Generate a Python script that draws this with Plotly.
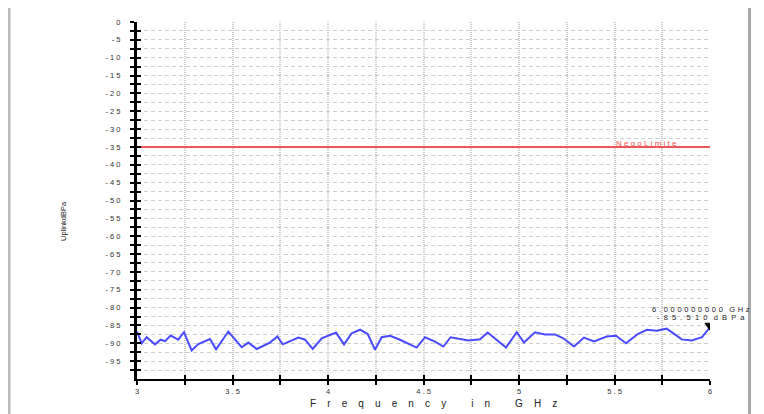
import plotly.graph_objects as go

# ---- data ----
freq_ghz = [3.00, 3.025, 3.05, 3.094, 3.124, 3.147, 3.176, 3.216, 3.246, 3.286,
            3.321, 3.382, 3.414, 3.478, 3.548, 3.583, 3.627, 3.696, 3.735, 3.763,
            3.845, 3.88, 3.92, 3.967, 4.042, 4.084, 4.124, 4.168, 4.208, 4.246,
            4.281, 4.325, 4.377, 4.464, 4.508, 4.56, 4.604, 4.642, 4.735, 4.796,
            4.836, 4.932, 4.988, 5.026, 5.084, 5.136, 5.188, 5.232, 5.288, 5.34,
            5.393, 5.459, 5.508, 5.56, 5.622, 5.669, 5.721, 5.773, 5.852, 5.904,
            5.958, 6.0]
level_dbpa = [-86.7, -90.0, -88.3, -90.3, -89.0, -89.4, -87.8, -89.0, -86.9, -92.0,
              -90.2, -88.8, -91.7, -86.7, -91.1, -89.8, -91.6, -89.8, -88.1, -90.3,
              -88.4, -89.0, -91.6, -88.6, -87.0, -90.3, -87.2, -86.2, -87.4, -91.8,
              -88.3, -87.9, -89.0, -91.2, -88.3, -89.5, -90.9, -88.3, -89.2, -88.9,
              -87.0, -91.2, -86.9, -89.8, -86.9, -87.5, -87.5, -88.6, -90.9, -88.4,
              -89.5, -88.1, -87.9, -90.0, -87.4, -86.2, -86.5, -85.9, -88.9, -89.2,
              -88.3, -85.51]
limit_freq = [3.0, 6.0]
limit_level = [-35, -35]
limit_label = "NegoLimite"

x_tick_vals = [3.0, 3.25, 3.5, 3.75, 4.0, 4.25, 4.5, 4.75, 5.0, 5.25, 5.5, 5.75, 6.0]
x_tick_text = ["3", "", "3.5", "", "4", "", "4.5", "", "5", "", "5.5", "", "6"]
y_tick_vals = [-v * 2.5 for v in range(0, 40)]
y_tick_text = [("%d" % v) if v % 5 == 0 else "" for v in y_tick_vals]

x_title = "Frequency in GHz"
y_title = "UplinkdBPa"
marker_line1 = "6.000000000 GHz"
marker_line2 = "-85.510 dBPa"

NB = "\u00a0"


def spaced(s, n=1, word=None, sep=None):
    gap = sep if sep is not None else NB * n
    out = []
    for i, ch in enumerate(s):
        if ch == " ":
            out.append(NB * (word if word is not None else n))
            continue
        out.append(ch)
        if i < len(s) - 1 and s[i + 1] != " ":
            out.append(gap)
    return "".join(out)


# page body margin of the browser (8px) shifts the figure
O = 8
W, H = 764, 414
# plot area in window pixels: x 137..710, y 22..379
L, T = 137 - O, 22 - O
R, B = W - (710 - O), H - (379 - O)
PW, PH = W - L - R, H - T - B


def px(x):
    return (x - O - L) / PW


def py(y):
    return (H - B - (y - O)) / PH


fig = go.Figure()

fig.add_trace(go.Scatter(x=limit_freq, y=limit_level, mode="lines",
                         line=dict(color="#f05555", width=2), hoverinfo="skip",
                         showlegend=False))
fig.add_trace(go.Scatter(x=freq_ghz, y=level_dbpa, mode="lines",
                         line=dict(color="#4a4aff", width=2), showlegend=False))
# dummy trace for overlay axes (cross ticks)
fig.add_trace(go.Scatter(x=[freq_ghz[0]], y=[level_dbpa[0]], xaxis="x2", yaxis="y2",
                         mode="markers", marker=dict(opacity=0), showlegend=False,
                         hoverinfo="skip"))

tickfont = dict(family="Liberation Sans, Arial", size=7.5, color="#333333")

fig.update_layout(
    width=W, height=H,
    margin=dict(l=L, r=R, t=T, b=B, autoexpand=False),
    paper_bgcolor="white", plot_bgcolor="white",
    xaxis=dict(range=[3, 6], tickmode="array", tickvals=x_tick_vals,
               ticktext=[spaced(t) for t in x_tick_text],
               showgrid=True, gridcolor="#cccccc", gridwidth=2, griddash="1px,1px",
               showline=True, linecolor="black", linewidth=2,
               ticks="outside", ticklen=4, tickwidth=2, tickcolor="black",
               tickfont=tickfont, zeroline=False, automargin=False),
    yaxis=dict(range=[-100, 0], tickmode="array", tickvals=y_tick_vals,
               ticktext=[spaced(t) for t in y_tick_text],
               showgrid=True, gridcolor="#d0d0d0", gridwidth=1, griddash="4px,3px",
               showline=True, linecolor="black", linewidth=3,
               ticks="outside", ticklen=4, tickwidth=2, tickcolor="black",
               tickfont=tickfont, ticklabelstandoff=8, zeroline=False, automargin=False),
    xaxis2=dict(range=[3, 6], overlaying="x", anchor="y2", side="bottom",
                tickmode="array", tickvals=x_tick_vals, showticklabels=False,
                ticks="inside", ticklen=4, tickwidth=2, tickcolor="black",
                showgrid=False, showline=False, zeroline=False),
    yaxis2=dict(range=[-100, 0], overlaying="y", anchor="x2", side="left",
                tickmode="array", tickvals=y_tick_vals, showticklabels=False,
                ticks="inside", ticklen=4, tickwidth=2, tickcolor="black",
                showgrid=False, showline=False, zeroline=False),
    showlegend=False,
)

# page frame
fig.add_shape(type="line", xref="paper", yref="paper", x0=px(8), x1=px(750),
              y0=py(6.5), y1=py(6.5), line=dict(color="#dcdcdc", width=2), layer="below")
fig.add_shape(type="line", xref="paper", yref="paper", x0=px(9), x1=px(9),
              y0=py(6), y1=py(420), line=dict(color="#bdbdbd", width=3), layer="below")
fig.add_shape(type="line", xref="paper", yref="paper", x0=px(749.5), x1=px(749.5),
              y0=py(6), y1=py(420), line=dict(color="#a8a8a8", width=3), layer="below")

# marker triangle at last point
fig.add_shape(type="path", xref="x", yref="y", xsizemode="pixel", ysizemode="pixel",
              xanchor=freq_ghz[-1], yanchor=level_dbpa[-1],
              path="M -5 4 L 5 4 L 0 -3 Z", fillcolor="black",
              line=dict(color="black", width=1))

annfont = dict(family="Liberation Sans, Arial", color="#222222")
fig.add_annotation(xref="paper", yref="paper", x=px(650), y=py(309), xanchor="left",
                   yanchor="middle", showarrow=False,
                   text=spaced(marker_line1, 1, 3, sep=NB + "\u200a"),
                   font=dict(size=7.5, **annfont))
fig.add_annotation(xref="paper", yref="paper", x=px(655), y=py(317), xanchor="left",
                   yanchor="middle", showarrow=False,
                   text=spaced(marker_line2, 2, 3), font=dict(size=7.5, **annfont))

fig.add_annotation(xref="paper", yref="y", x=px(646), y=limit_level[0], xanchor="center",
                   yanchor="bottom", yshift=-3, showarrow=False,
                   text=spaced(limit_label), font=dict(size=8, family="Liberation Sans, Arial",
                                                        color="#f05555"))

fig.add_annotation(xref="paper", yref="paper", x=px(433), y=py(403), xanchor="center",
                   yanchor="middle", showarrow=False,
                   text=spaced(x_title, 4, 9), font=dict(size=10, **annfont))
fig.add_annotation(xref="paper", yref="paper", x=px(63), y=py(221), xanchor="center",
                   yanchor="middle", showarrow=False, textangle=-90,
                   text=y_title, font=dict(size=7.5, **annfont))

fig.write_html("out.html")
